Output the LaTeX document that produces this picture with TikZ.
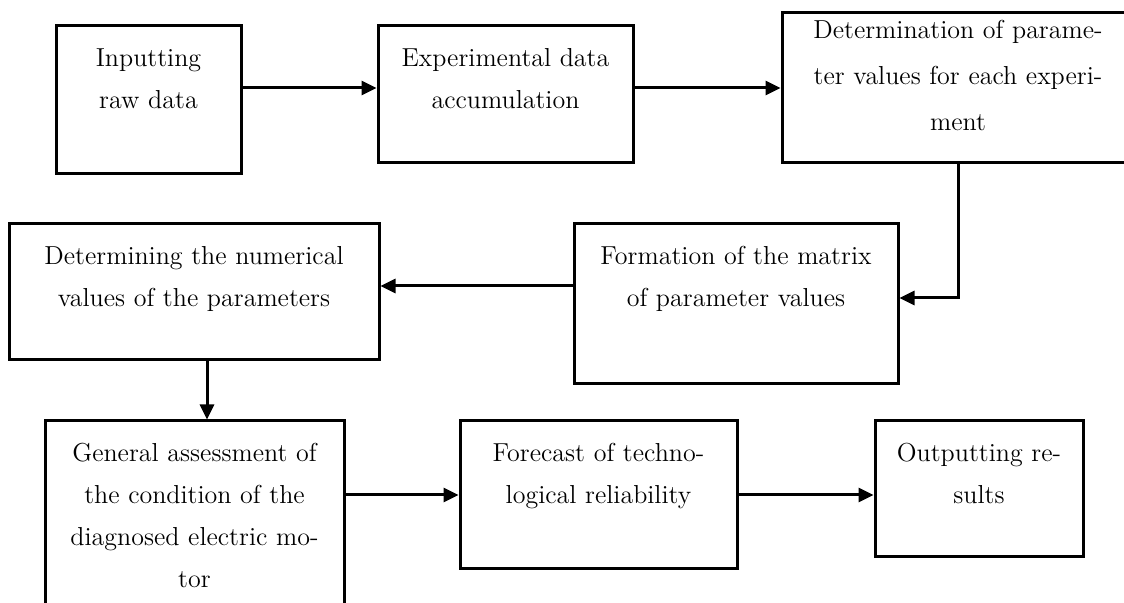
\documentclass[tikz,border=0pt]{standalone}
\usepackage{amsmath}
\usetikzlibrary{arrows.meta}

\tikzset{
  blk/.style={draw,line width=1.5pt,inner sep=0pt},
  txt/.style={text width=#1,align=center,inner sep=0pt,anchor=base,
    font=\fontsize{13}{21}\selectfont},
  arr/.style={line width=1.5pt,-{Triangle[length=7.5pt,width=7pt]}}
}

\begin{document}
\begin{tikzpicture}[x=0.5pt,y=-0.5pt]
        \useasboundingbox (0,0) rectangle (1124,603);
        % boxes
        \node[blk,minimum width=92.5pt,minimum height=74pt] (b1) at (148.5,100) {};
        \node[blk,minimum width=127.5pt,minimum height=68.5pt] (b2) at (505.5,94.5) {};
        \node[blk,minimum width=176pt,minimum height=75pt] (b3) at (958,88) {};
        \node[blk,minimum width=162pt,minimum height=80pt] (b4) at (736,304) {};
        \node[blk,minimum width=185pt,minimum height=68pt] (b5) at (194,292) {};
        \node[blk,minimum width=149.5pt,minimum height=97pt] (b6) at (194.5,518) {};
        \node[blk,minimum width=138.5pt,minimum height=74pt] (b7) at (598.5,495) {};
        \node[blk,minimum width=104pt,minimum height=68pt] (b8) at (979,489) {};
        % texts
        \node[txt=90pt] (t1) at ([yshift=-21pt]b1.north) {Inputting\\raw data};
        \node[txt=125pt] (t2) at ([yshift=-21pt]b2.north) {Experimental data\\accumulation};
        \node[txt=174pt,font=\fontsize{13}{23}\selectfont] (t3) at ([yshift=-13.5pt]b3.north)
          {Determination of parame-\\ter values for each experi-\\ment};
        \node[txt=160pt] (t4) at ([yshift=-21pt]b4.north) {Formation of the matrix\\of parameter values};
        \node[txt=183pt] (t5) at ([yshift=-21pt]b5.north) {Determining the numerical\\values of the parameters};
        \node[txt=147pt] (t6) at ([yshift=-21pt]b6.north)
          {General assessment of\\the condition of the\\diagnosed electric mo-\\tor};
        \node[txt=136pt] (t7) at ([yshift=-21pt]b7.north) {Forecast of techno-\\logical reliability};
        \node[txt=102pt] (t8) at ([yshift=-21pt]b8.north) {Outputting re-\\sults};
        % connector ends
        \coordinate (c1) at ([yshift=6pt]b1.east);
        \coordinate (c4) at ([yshift=9pt]b4.west);
        \coordinate (c5) at ([xshift=6.5pt]b5.south);
        % connectors
        \draw[arr] (c1) -- (b2.west|-c1);
        \draw[arr] (b2.east|-b3.west) -- (b3.west);
        \draw[arr] (b3.south) |- ([yshift=3pt]b4.east);
        \draw[arr] (c4) -- (b5.east|-c4);
        \draw[arr] (c5) -- (b6.north-|c5);
        \draw[arr] (b6.east|-b7.west) -- (b7.west);
        \draw[arr] (b7.east) -- (b8.west|-b7.east);
      \end{tikzpicture}
\end{document}
